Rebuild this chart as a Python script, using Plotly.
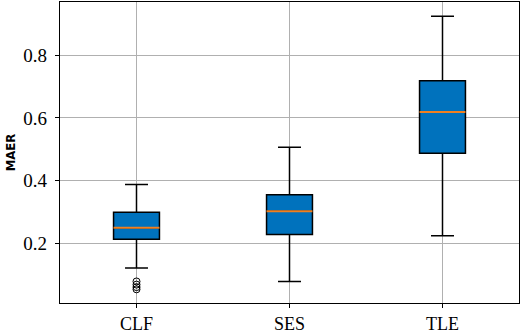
import plotly.graph_objects as go

categories = ["CLF", "SES", "TLE"]
lower_whisker = [0.123, 0.080, 0.225]
q1 = [0.214, 0.229, 0.488]
median = [0.251, 0.303, 0.619]
q3 = [0.300, 0.356, 0.718]
upper_whisker = [0.388, 0.507, 0.923]
clf_outliers = [0.080, 0.070, 0.062, 0.055]
y_ticks = [0.2, 0.4, 0.6, 0.8]
y_tick_labels = ["0.2", "0.4", "0.6", "0.8"]

positions = [1, 2, 3]
box_width = 0.3
box_fill = "#0072BD"
median_color = "#f08020"

fig = go.Figure()

for i, cat in enumerate(categories):
    fig.add_trace(go.Box(
        x=[positions[i]],
        q1=[q1[i]], median=[median[i]], q3=[q3[i]],
        lowerfence=[lower_whisker[i]], upperfence=[upper_whisker[i]],
        width=box_width, whiskerwidth=0.5,
        fillcolor=box_fill,
        line=dict(color="black", width=1.5),
        boxpoints=False, showlegend=False, hoverinfo="skip",
        name=cat,
    ))
    fig.add_trace(go.Scatter(
        x=[positions[i] - box_width / 2, positions[i] + box_width / 2],
        y=[median[i], median[i]],
        mode="lines", line=dict(color=median_color, width=2),
        showlegend=False, hoverinfo="skip",
    ))

fig.add_trace(go.Scatter(
    x=[positions[0]] * len(clf_outliers), y=clf_outliers,
    mode="markers",
    marker=dict(symbol="circle-open", size=7, color="black", line=dict(width=1)),
    showlegend=False, hoverinfo="skip",
))

serif = "Liberation Serif, Times New Roman, serif"

fig.update_layout(
    width=526, height=330,
    margin=dict(l=60, r=7, t=2, b=27),
    paper_bgcolor="white", plot_bgcolor="white",
    font=dict(family=serif, size=18, color="black"),
    xaxis=dict(
        range=[0.5, 3.5], automargin=False,
        tickvals=positions, ticktext=categories,
        showgrid=True, gridcolor="#b0b0b0", gridwidth=1,
        showline=True, linecolor="black", linewidth=1.3, mirror=True,
        ticks="outside", ticklen=4, tickcolor="black", tickwidth=1,
        zeroline=False,
        tickfont=dict(family=serif, size=18),
    ),
    yaxis=dict(
        range=[0.0115, 0.9685], automargin=False,
        tickvals=y_ticks, ticktext=y_tick_labels,
        showgrid=True, gridcolor="#b0b0b0", gridwidth=1,
        showline=True, linecolor="black", linewidth=1.3, mirror=True,
        ticks="outside", ticklen=4, tickcolor="black", tickwidth=1,
        zeroline=False, ticklabelstandoff=4,
        tickfont=dict(family=serif, size=19),
        title=dict(text="<b>MAER</b>", standoff=4,
                   font=dict(family="DejaVu Sans Condensed, Liberation Sans Narrow, sans-serif", size=13)),
    ),
)

fig.write_html("out.html", config={"displayModeBar": False},
               post_script="document.body.style.margin='0px';document.body.style.padding='0px';")
